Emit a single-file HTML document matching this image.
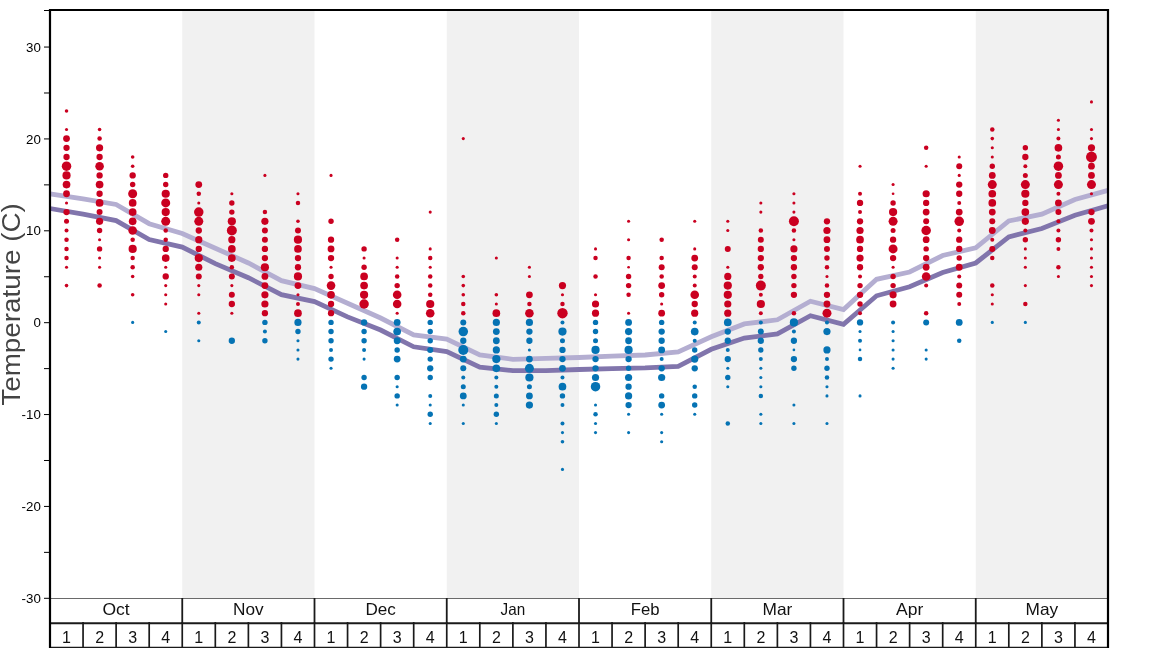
<!DOCTYPE html><html><head><meta charset="utf-8"><title>Temperature</title>
<style>html,body{margin:0;padding:0;background:#fff;overflow:hidden}svg{display:block;will-change:transform}text{font-family:"Liberation Sans",sans-serif}</style></head><body>
<svg width="1168" height="648" viewBox="0 0 1168 648">
<rect x="0" y="0" width="1168" height="648" fill="#fff"/>
<rect x="182.25" y="10.0" width="132.25" height="588.0" fill="#f1f1f1"/>
<rect x="446.75" y="10.0" width="132.25" height="588.0" fill="#f1f1f1"/>
<rect x="711.25" y="10.0" width="132.25" height="588.0" fill="#f1f1f1"/>
<rect x="975.75" y="10.0" width="132.25" height="588.0" fill="#f1f1f1"/>
<path d="M50.00,193.8 L83.06,198.8 L116.12,204.5 L149.19,223.7 L182.25,233.5 L215.31,248.2 L248.38,263.0 L281.44,280.7 L314.50,288.6 L347.56,303.3 L380.62,318.0 L413.69,335.0 L446.75,339.1 L479.81,355.0 L512.88,359.3 L545.94,358.4 L579.00,357.5 L612.06,356.1 L645.12,355.0 L678.19,352.0 L711.25,336.8 L744.31,323.9 L777.38,319.8 L810.44,301.2 L843.50,309.6 L876.56,279.3 L909.62,272.0 L942.69,255.5 L975.75,247.8 L1008.81,221.0 L1041.88,214.2 L1074.94,199.5 L1108.00,190.4" fill="none" stroke="#b4aed1" stroke-width="4.8" stroke-linejoin="miter"/>
<path d="M50.00,208.5 L83.06,214.2 L116.12,220.6 L149.19,239.6 L182.25,247.1 L215.31,263.6 L248.38,277.7 L281.44,294.7 L314.50,301.6 L347.56,316.9 L380.62,330.0 L413.69,346.8 L446.75,351.6 L479.81,367.2 L512.88,370.6 L545.94,370.6 L579.00,369.5 L612.06,368.6 L645.12,367.9 L678.19,366.3 L711.25,349.3 L744.31,338.0 L777.38,333.9 L810.44,315.7 L843.50,324.3 L876.56,295.8 L909.62,286.8 L942.69,272.5 L975.75,263.0 L1008.81,236.9 L1041.88,228.5 L1074.94,215.3 L1108.00,205.8" fill="none" stroke="#8175ac" stroke-width="4.8" stroke-linejoin="miter"/>
<circle cx="66.53" cy="285.62" r="1.80" fill="#ca0020"/>
<circle cx="66.53" cy="267.25" r="1.55" fill="#ca0020"/>
<circle cx="66.53" cy="258.06" r="2.25" fill="#ca0020"/>
<circle cx="66.53" cy="248.88" r="2.25" fill="#ca0020"/>
<circle cx="66.53" cy="239.69" r="2.25" fill="#ca0020"/>
<circle cx="66.53" cy="230.50" r="2.00" fill="#ca0020"/>
<circle cx="66.53" cy="221.31" r="2.50" fill="#ca0020"/>
<circle cx="66.53" cy="212.12" r="3.15" fill="#ca0020"/>
<circle cx="66.53" cy="202.94" r="1.55" fill="#ca0020"/>
<circle cx="66.53" cy="193.75" r="3.40" fill="#ca0020"/>
<circle cx="66.53" cy="184.56" r="3.85" fill="#ca0020"/>
<circle cx="66.53" cy="175.38" r="4.10" fill="#ca0020"/>
<circle cx="66.53" cy="166.19" r="4.75" fill="#ca0020"/>
<circle cx="66.53" cy="157.00" r="3.15" fill="#ca0020"/>
<circle cx="66.53" cy="147.81" r="3.15" fill="#ca0020"/>
<circle cx="66.53" cy="138.62" r="3.40" fill="#ca0020"/>
<circle cx="66.53" cy="129.44" r="1.55" fill="#ca0020"/>
<circle cx="66.53" cy="111.06" r="1.80" fill="#ca0020"/>
<circle cx="99.59" cy="285.62" r="2.25" fill="#ca0020"/>
<circle cx="99.59" cy="267.25" r="1.55" fill="#ca0020"/>
<circle cx="99.59" cy="258.06" r="1.55" fill="#ca0020"/>
<circle cx="99.59" cy="248.88" r="2.70" fill="#ca0020"/>
<circle cx="99.59" cy="239.69" r="1.55" fill="#ca0020"/>
<circle cx="99.59" cy="230.50" r="2.70" fill="#ca0020"/>
<circle cx="99.59" cy="221.31" r="3.60" fill="#ca0020"/>
<circle cx="99.59" cy="212.12" r="3.00" fill="#ca0020"/>
<circle cx="99.59" cy="202.94" r="3.85" fill="#ca0020"/>
<circle cx="99.59" cy="193.75" r="3.15" fill="#ca0020"/>
<circle cx="99.59" cy="184.56" r="3.85" fill="#ca0020"/>
<circle cx="99.59" cy="175.38" r="3.15" fill="#ca0020"/>
<circle cx="99.59" cy="166.19" r="4.30" fill="#ca0020"/>
<circle cx="99.59" cy="157.00" r="3.15" fill="#ca0020"/>
<circle cx="99.59" cy="147.81" r="3.60" fill="#ca0020"/>
<circle cx="99.59" cy="138.62" r="2.25" fill="#ca0020"/>
<circle cx="99.59" cy="129.44" r="1.80" fill="#ca0020"/>
<circle cx="132.66" cy="322.38" r="1.55" fill="#0573b4"/>
<circle cx="132.66" cy="294.81" r="1.80" fill="#ca0020"/>
<circle cx="132.66" cy="276.44" r="1.80" fill="#ca0020"/>
<circle cx="132.66" cy="267.25" r="2.25" fill="#ca0020"/>
<circle cx="132.66" cy="258.06" r="2.25" fill="#ca0020"/>
<circle cx="132.66" cy="248.88" r="4.10" fill="#ca0020"/>
<circle cx="132.66" cy="239.69" r="2.25" fill="#ca0020"/>
<circle cx="132.66" cy="230.50" r="4.30" fill="#ca0020"/>
<circle cx="132.66" cy="221.31" r="3.85" fill="#ca0020"/>
<circle cx="132.66" cy="212.12" r="3.85" fill="#ca0020"/>
<circle cx="132.66" cy="202.94" r="3.85" fill="#ca0020"/>
<circle cx="132.66" cy="193.75" r="4.50" fill="#ca0020"/>
<circle cx="132.66" cy="184.56" r="2.70" fill="#ca0020"/>
<circle cx="132.66" cy="175.38" r="3.15" fill="#ca0020"/>
<circle cx="132.66" cy="166.19" r="1.80" fill="#ca0020"/>
<circle cx="132.66" cy="157.00" r="1.80" fill="#ca0020"/>
<circle cx="165.72" cy="331.56" r="1.55" fill="#0573b4"/>
<circle cx="165.72" cy="304.00" r="1.55" fill="#ca0020"/>
<circle cx="165.72" cy="294.81" r="1.55" fill="#ca0020"/>
<circle cx="165.72" cy="285.62" r="1.55" fill="#ca0020"/>
<circle cx="165.72" cy="276.44" r="3.15" fill="#ca0020"/>
<circle cx="165.72" cy="267.25" r="1.55" fill="#ca0020"/>
<circle cx="165.72" cy="258.06" r="3.85" fill="#ca0020"/>
<circle cx="165.72" cy="248.88" r="3.15" fill="#ca0020"/>
<circle cx="165.72" cy="239.69" r="2.25" fill="#ca0020"/>
<circle cx="165.72" cy="230.50" r="2.25" fill="#ca0020"/>
<circle cx="165.72" cy="221.31" r="4.50" fill="#ca0020"/>
<circle cx="165.72" cy="212.12" r="4.10" fill="#ca0020"/>
<circle cx="165.72" cy="202.94" r="4.50" fill="#ca0020"/>
<circle cx="165.72" cy="193.75" r="4.10" fill="#ca0020"/>
<circle cx="165.72" cy="184.56" r="2.70" fill="#ca0020"/>
<circle cx="165.72" cy="175.38" r="2.70" fill="#ca0020"/>
<circle cx="198.78" cy="340.75" r="1.55" fill="#0573b4"/>
<circle cx="198.78" cy="322.38" r="2.00" fill="#0573b4"/>
<circle cx="198.78" cy="313.19" r="1.55" fill="#ca0020"/>
<circle cx="198.78" cy="294.81" r="1.55" fill="#ca0020"/>
<circle cx="198.78" cy="285.62" r="1.55" fill="#ca0020"/>
<circle cx="198.78" cy="276.44" r="3.00" fill="#ca0020"/>
<circle cx="198.78" cy="267.25" r="3.60" fill="#ca0020"/>
<circle cx="198.78" cy="258.06" r="4.10" fill="#ca0020"/>
<circle cx="198.78" cy="248.88" r="3.15" fill="#ca0020"/>
<circle cx="198.78" cy="239.69" r="3.60" fill="#ca0020"/>
<circle cx="198.78" cy="230.50" r="3.15" fill="#ca0020"/>
<circle cx="198.78" cy="221.31" r="4.50" fill="#ca0020"/>
<circle cx="198.78" cy="212.12" r="4.75" fill="#ca0020"/>
<circle cx="198.78" cy="202.94" r="1.55" fill="#ca0020"/>
<circle cx="198.78" cy="193.75" r="2.25" fill="#ca0020"/>
<circle cx="198.78" cy="184.56" r="3.40" fill="#ca0020"/>
<circle cx="231.84" cy="340.75" r="3.15" fill="#0573b4"/>
<circle cx="231.84" cy="313.19" r="1.55" fill="#ca0020"/>
<circle cx="231.84" cy="304.00" r="3.15" fill="#ca0020"/>
<circle cx="231.84" cy="294.81" r="3.00" fill="#ca0020"/>
<circle cx="231.84" cy="285.62" r="1.55" fill="#ca0020"/>
<circle cx="231.84" cy="276.44" r="3.00" fill="#ca0020"/>
<circle cx="231.84" cy="267.25" r="2.25" fill="#ca0020"/>
<circle cx="231.84" cy="258.06" r="3.85" fill="#ca0020"/>
<circle cx="231.84" cy="248.88" r="3.85" fill="#ca0020"/>
<circle cx="231.84" cy="239.69" r="3.60" fill="#ca0020"/>
<circle cx="231.84" cy="230.50" r="5.00" fill="#ca0020"/>
<circle cx="231.84" cy="221.31" r="4.10" fill="#ca0020"/>
<circle cx="231.84" cy="212.12" r="2.70" fill="#ca0020"/>
<circle cx="231.84" cy="202.94" r="2.70" fill="#ca0020"/>
<circle cx="231.84" cy="193.75" r="1.55" fill="#ca0020"/>
<circle cx="264.91" cy="340.75" r="2.70" fill="#0573b4"/>
<circle cx="264.91" cy="331.56" r="2.00" fill="#0573b4"/>
<circle cx="264.91" cy="322.38" r="2.70" fill="#0573b4"/>
<circle cx="264.91" cy="313.19" r="3.15" fill="#ca0020"/>
<circle cx="264.91" cy="304.00" r="3.60" fill="#ca0020"/>
<circle cx="264.91" cy="294.81" r="3.60" fill="#ca0020"/>
<circle cx="264.91" cy="285.62" r="3.40" fill="#ca0020"/>
<circle cx="264.91" cy="276.44" r="3.40" fill="#ca0020"/>
<circle cx="264.91" cy="267.25" r="4.10" fill="#ca0020"/>
<circle cx="264.91" cy="258.06" r="3.15" fill="#ca0020"/>
<circle cx="264.91" cy="248.88" r="3.15" fill="#ca0020"/>
<circle cx="264.91" cy="239.69" r="3.00" fill="#ca0020"/>
<circle cx="264.91" cy="230.50" r="3.00" fill="#ca0020"/>
<circle cx="264.91" cy="221.31" r="3.60" fill="#ca0020"/>
<circle cx="264.91" cy="212.12" r="2.25" fill="#ca0020"/>
<circle cx="264.91" cy="175.38" r="1.55" fill="#ca0020"/>
<circle cx="297.97" cy="359.12" r="1.55" fill="#0573b4"/>
<circle cx="297.97" cy="349.94" r="1.55" fill="#0573b4"/>
<circle cx="297.97" cy="340.75" r="1.55" fill="#0573b4"/>
<circle cx="297.97" cy="331.56" r="2.70" fill="#0573b4"/>
<circle cx="297.97" cy="322.38" r="3.60" fill="#0573b4"/>
<circle cx="297.97" cy="313.19" r="3.85" fill="#ca0020"/>
<circle cx="297.97" cy="304.00" r="2.00" fill="#ca0020"/>
<circle cx="297.97" cy="294.81" r="1.55" fill="#ca0020"/>
<circle cx="297.97" cy="285.62" r="3.40" fill="#ca0020"/>
<circle cx="297.97" cy="276.44" r="4.10" fill="#ca0020"/>
<circle cx="297.97" cy="267.25" r="3.15" fill="#ca0020"/>
<circle cx="297.97" cy="258.06" r="3.15" fill="#ca0020"/>
<circle cx="297.97" cy="248.88" r="3.85" fill="#ca0020"/>
<circle cx="297.97" cy="239.69" r="4.10" fill="#ca0020"/>
<circle cx="297.97" cy="230.50" r="3.00" fill="#ca0020"/>
<circle cx="297.97" cy="221.31" r="1.80" fill="#ca0020"/>
<circle cx="297.97" cy="202.94" r="2.25" fill="#ca0020"/>
<circle cx="297.97" cy="193.75" r="1.55" fill="#ca0020"/>
<circle cx="331.03" cy="368.31" r="1.55" fill="#0573b4"/>
<circle cx="331.03" cy="359.12" r="2.70" fill="#0573b4"/>
<circle cx="331.03" cy="349.94" r="2.00" fill="#0573b4"/>
<circle cx="331.03" cy="340.75" r="2.70" fill="#0573b4"/>
<circle cx="331.03" cy="331.56" r="2.70" fill="#0573b4"/>
<circle cx="331.03" cy="322.38" r="2.70" fill="#0573b4"/>
<circle cx="331.03" cy="313.19" r="3.15" fill="#ca0020"/>
<circle cx="331.03" cy="304.00" r="3.15" fill="#ca0020"/>
<circle cx="331.03" cy="294.81" r="3.85" fill="#ca0020"/>
<circle cx="331.03" cy="285.62" r="4.30" fill="#ca0020"/>
<circle cx="331.03" cy="276.44" r="2.70" fill="#ca0020"/>
<circle cx="331.03" cy="267.25" r="1.55" fill="#ca0020"/>
<circle cx="331.03" cy="258.06" r="3.15" fill="#ca0020"/>
<circle cx="331.03" cy="248.88" r="3.40" fill="#ca0020"/>
<circle cx="331.03" cy="239.69" r="3.15" fill="#ca0020"/>
<circle cx="331.03" cy="221.31" r="2.70" fill="#ca0020"/>
<circle cx="331.03" cy="175.38" r="1.55" fill="#ca0020"/>
<circle cx="364.09" cy="386.69" r="3.15" fill="#0573b4"/>
<circle cx="364.09" cy="377.50" r="2.70" fill="#0573b4"/>
<circle cx="364.09" cy="359.12" r="1.55" fill="#0573b4"/>
<circle cx="364.09" cy="349.94" r="2.00" fill="#0573b4"/>
<circle cx="364.09" cy="340.75" r="2.70" fill="#0573b4"/>
<circle cx="364.09" cy="331.56" r="2.70" fill="#0573b4"/>
<circle cx="364.09" cy="322.38" r="3.15" fill="#0573b4"/>
<circle cx="364.09" cy="304.00" r="4.75" fill="#ca0020"/>
<circle cx="364.09" cy="294.81" r="4.10" fill="#ca0020"/>
<circle cx="364.09" cy="285.62" r="3.85" fill="#ca0020"/>
<circle cx="364.09" cy="276.44" r="3.85" fill="#ca0020"/>
<circle cx="364.09" cy="267.25" r="2.70" fill="#ca0020"/>
<circle cx="364.09" cy="258.06" r="1.55" fill="#ca0020"/>
<circle cx="364.09" cy="248.88" r="2.70" fill="#ca0020"/>
<circle cx="397.16" cy="405.06" r="1.55" fill="#0573b4"/>
<circle cx="397.16" cy="395.88" r="2.70" fill="#0573b4"/>
<circle cx="397.16" cy="386.69" r="1.55" fill="#0573b4"/>
<circle cx="397.16" cy="377.50" r="2.70" fill="#0573b4"/>
<circle cx="397.16" cy="359.12" r="3.40" fill="#0573b4"/>
<circle cx="397.16" cy="349.94" r="2.70" fill="#0573b4"/>
<circle cx="397.16" cy="340.75" r="3.40" fill="#0573b4"/>
<circle cx="397.16" cy="331.56" r="3.85" fill="#0573b4"/>
<circle cx="397.16" cy="322.38" r="3.40" fill="#0573b4"/>
<circle cx="397.16" cy="313.19" r="1.55" fill="#ca0020"/>
<circle cx="397.16" cy="304.00" r="4.30" fill="#ca0020"/>
<circle cx="397.16" cy="294.81" r="4.30" fill="#ca0020"/>
<circle cx="397.16" cy="285.62" r="2.70" fill="#ca0020"/>
<circle cx="397.16" cy="276.44" r="2.25" fill="#ca0020"/>
<circle cx="397.16" cy="267.25" r="1.55" fill="#ca0020"/>
<circle cx="397.16" cy="258.06" r="1.55" fill="#ca0020"/>
<circle cx="397.16" cy="239.69" r="2.25" fill="#ca0020"/>
<circle cx="430.22" cy="423.44" r="1.55" fill="#0573b4"/>
<circle cx="430.22" cy="414.25" r="2.70" fill="#0573b4"/>
<circle cx="430.22" cy="405.06" r="1.55" fill="#0573b4"/>
<circle cx="430.22" cy="395.88" r="2.00" fill="#0573b4"/>
<circle cx="430.22" cy="377.50" r="2.70" fill="#0573b4"/>
<circle cx="430.22" cy="368.31" r="3.15" fill="#0573b4"/>
<circle cx="430.22" cy="359.12" r="2.70" fill="#0573b4"/>
<circle cx="430.22" cy="349.94" r="3.00" fill="#0573b4"/>
<circle cx="430.22" cy="340.75" r="2.70" fill="#0573b4"/>
<circle cx="430.22" cy="331.56" r="2.70" fill="#0573b4"/>
<circle cx="430.22" cy="322.38" r="2.70" fill="#0573b4"/>
<circle cx="430.22" cy="313.19" r="4.30" fill="#ca0020"/>
<circle cx="430.22" cy="304.00" r="4.10" fill="#ca0020"/>
<circle cx="430.22" cy="294.81" r="2.25" fill="#ca0020"/>
<circle cx="430.22" cy="285.62" r="2.25" fill="#ca0020"/>
<circle cx="430.22" cy="276.44" r="2.25" fill="#ca0020"/>
<circle cx="430.22" cy="267.25" r="1.55" fill="#ca0020"/>
<circle cx="430.22" cy="258.06" r="2.25" fill="#ca0020"/>
<circle cx="430.22" cy="248.88" r="1.55" fill="#ca0020"/>
<circle cx="430.22" cy="212.12" r="1.55" fill="#ca0020"/>
<circle cx="463.28" cy="423.44" r="1.55" fill="#0573b4"/>
<circle cx="463.28" cy="405.06" r="1.55" fill="#0573b4"/>
<circle cx="463.28" cy="395.88" r="3.40" fill="#0573b4"/>
<circle cx="463.28" cy="386.69" r="2.50" fill="#0573b4"/>
<circle cx="463.28" cy="377.50" r="2.00" fill="#0573b4"/>
<circle cx="463.28" cy="368.31" r="3.00" fill="#0573b4"/>
<circle cx="463.28" cy="359.12" r="3.40" fill="#0573b4"/>
<circle cx="463.28" cy="349.94" r="5.00" fill="#0573b4"/>
<circle cx="463.28" cy="340.75" r="3.15" fill="#0573b4"/>
<circle cx="463.28" cy="331.56" r="4.75" fill="#0573b4"/>
<circle cx="463.28" cy="322.38" r="3.00" fill="#0573b4"/>
<circle cx="463.28" cy="313.19" r="2.25" fill="#ca0020"/>
<circle cx="463.28" cy="304.00" r="2.25" fill="#ca0020"/>
<circle cx="463.28" cy="294.81" r="1.80" fill="#ca0020"/>
<circle cx="463.28" cy="285.62" r="1.80" fill="#ca0020"/>
<circle cx="463.28" cy="276.44" r="1.80" fill="#ca0020"/>
<circle cx="463.28" cy="138.62" r="1.55" fill="#ca0020"/>
<circle cx="496.34" cy="423.44" r="1.55" fill="#0573b4"/>
<circle cx="496.34" cy="414.25" r="2.70" fill="#0573b4"/>
<circle cx="496.34" cy="405.06" r="2.00" fill="#0573b4"/>
<circle cx="496.34" cy="395.88" r="2.50" fill="#0573b4"/>
<circle cx="496.34" cy="386.69" r="2.00" fill="#0573b4"/>
<circle cx="496.34" cy="377.50" r="2.00" fill="#0573b4"/>
<circle cx="496.34" cy="368.31" r="3.85" fill="#0573b4"/>
<circle cx="496.34" cy="359.12" r="4.10" fill="#0573b4"/>
<circle cx="496.34" cy="349.94" r="3.60" fill="#0573b4"/>
<circle cx="496.34" cy="340.75" r="3.40" fill="#0573b4"/>
<circle cx="496.34" cy="331.56" r="3.40" fill="#0573b4"/>
<circle cx="496.34" cy="322.38" r="3.60" fill="#0573b4"/>
<circle cx="496.34" cy="313.19" r="3.85" fill="#ca0020"/>
<circle cx="496.34" cy="304.00" r="1.55" fill="#ca0020"/>
<circle cx="496.34" cy="294.81" r="1.80" fill="#ca0020"/>
<circle cx="496.34" cy="258.06" r="1.55" fill="#ca0020"/>
<circle cx="529.41" cy="405.06" r="3.60" fill="#0573b4"/>
<circle cx="529.41" cy="395.88" r="3.40" fill="#0573b4"/>
<circle cx="529.41" cy="386.69" r="2.50" fill="#0573b4"/>
<circle cx="529.41" cy="377.50" r="4.10" fill="#0573b4"/>
<circle cx="529.41" cy="368.31" r="4.50" fill="#0573b4"/>
<circle cx="529.41" cy="359.12" r="3.40" fill="#0573b4"/>
<circle cx="529.41" cy="349.94" r="1.55" fill="#0573b4"/>
<circle cx="529.41" cy="340.75" r="3.15" fill="#0573b4"/>
<circle cx="529.41" cy="331.56" r="3.15" fill="#0573b4"/>
<circle cx="529.41" cy="322.38" r="3.60" fill="#0573b4"/>
<circle cx="529.41" cy="313.19" r="4.30" fill="#ca0020"/>
<circle cx="529.41" cy="304.00" r="2.25" fill="#ca0020"/>
<circle cx="529.41" cy="294.81" r="3.40" fill="#ca0020"/>
<circle cx="529.41" cy="276.44" r="1.55" fill="#ca0020"/>
<circle cx="529.41" cy="267.25" r="1.55" fill="#ca0020"/>
<circle cx="562.47" cy="469.38" r="1.55" fill="#0573b4"/>
<circle cx="562.47" cy="441.81" r="1.80" fill="#0573b4"/>
<circle cx="562.47" cy="432.62" r="1.55" fill="#0573b4"/>
<circle cx="562.47" cy="423.44" r="2.00" fill="#0573b4"/>
<circle cx="562.47" cy="405.06" r="2.00" fill="#0573b4"/>
<circle cx="562.47" cy="395.88" r="2.70" fill="#0573b4"/>
<circle cx="562.47" cy="386.69" r="3.85" fill="#0573b4"/>
<circle cx="562.47" cy="377.50" r="2.00" fill="#0573b4"/>
<circle cx="562.47" cy="368.31" r="3.40" fill="#0573b4"/>
<circle cx="562.47" cy="359.12" r="3.15" fill="#0573b4"/>
<circle cx="562.47" cy="349.94" r="3.15" fill="#0573b4"/>
<circle cx="562.47" cy="340.75" r="2.50" fill="#0573b4"/>
<circle cx="562.47" cy="331.56" r="4.10" fill="#0573b4"/>
<circle cx="562.47" cy="322.38" r="2.00" fill="#0573b4"/>
<circle cx="562.47" cy="313.19" r="5.20" fill="#ca0020"/>
<circle cx="562.47" cy="304.00" r="2.25" fill="#ca0020"/>
<circle cx="562.47" cy="294.81" r="1.55" fill="#ca0020"/>
<circle cx="562.47" cy="285.62" r="3.60" fill="#ca0020"/>
<circle cx="595.53" cy="432.62" r="1.55" fill="#0573b4"/>
<circle cx="595.53" cy="423.44" r="1.55" fill="#0573b4"/>
<circle cx="595.53" cy="414.25" r="2.25" fill="#0573b4"/>
<circle cx="595.53" cy="405.06" r="1.55" fill="#0573b4"/>
<circle cx="595.53" cy="386.69" r="4.75" fill="#0573b4"/>
<circle cx="595.53" cy="377.50" r="3.60" fill="#0573b4"/>
<circle cx="595.53" cy="368.31" r="3.15" fill="#0573b4"/>
<circle cx="595.53" cy="359.12" r="3.15" fill="#0573b4"/>
<circle cx="595.53" cy="349.94" r="4.10" fill="#0573b4"/>
<circle cx="595.53" cy="340.75" r="2.50" fill="#0573b4"/>
<circle cx="595.53" cy="331.56" r="2.70" fill="#0573b4"/>
<circle cx="595.53" cy="322.38" r="2.70" fill="#0573b4"/>
<circle cx="595.53" cy="313.19" r="3.60" fill="#ca0020"/>
<circle cx="595.53" cy="304.00" r="3.60" fill="#ca0020"/>
<circle cx="595.53" cy="294.81" r="1.55" fill="#ca0020"/>
<circle cx="595.53" cy="276.44" r="2.25" fill="#ca0020"/>
<circle cx="595.53" cy="258.06" r="2.25" fill="#ca0020"/>
<circle cx="595.53" cy="248.88" r="1.55" fill="#ca0020"/>
<circle cx="628.59" cy="432.62" r="1.55" fill="#0573b4"/>
<circle cx="628.59" cy="414.25" r="1.55" fill="#0573b4"/>
<circle cx="628.59" cy="405.06" r="3.15" fill="#0573b4"/>
<circle cx="628.59" cy="395.88" r="3.60" fill="#0573b4"/>
<circle cx="628.59" cy="386.69" r="3.15" fill="#0573b4"/>
<circle cx="628.59" cy="377.50" r="3.60" fill="#0573b4"/>
<circle cx="628.59" cy="368.31" r="2.70" fill="#0573b4"/>
<circle cx="628.59" cy="359.12" r="3.15" fill="#0573b4"/>
<circle cx="628.59" cy="349.94" r="4.10" fill="#0573b4"/>
<circle cx="628.59" cy="340.75" r="3.40" fill="#0573b4"/>
<circle cx="628.59" cy="331.56" r="3.60" fill="#0573b4"/>
<circle cx="628.59" cy="322.38" r="3.40" fill="#0573b4"/>
<circle cx="628.59" cy="313.19" r="1.55" fill="#ca0020"/>
<circle cx="628.59" cy="294.81" r="2.25" fill="#ca0020"/>
<circle cx="628.59" cy="285.62" r="2.70" fill="#ca0020"/>
<circle cx="628.59" cy="276.44" r="2.70" fill="#ca0020"/>
<circle cx="628.59" cy="267.25" r="1.35" fill="#ca0020"/>
<circle cx="628.59" cy="258.06" r="2.25" fill="#ca0020"/>
<circle cx="628.59" cy="239.69" r="1.55" fill="#ca0020"/>
<circle cx="628.59" cy="221.31" r="1.55" fill="#ca0020"/>
<circle cx="661.66" cy="441.81" r="1.55" fill="#0573b4"/>
<circle cx="661.66" cy="432.62" r="1.55" fill="#0573b4"/>
<circle cx="661.66" cy="414.25" r="1.55" fill="#0573b4"/>
<circle cx="661.66" cy="405.06" r="3.40" fill="#0573b4"/>
<circle cx="661.66" cy="395.88" r="2.70" fill="#0573b4"/>
<circle cx="661.66" cy="377.50" r="3.60" fill="#0573b4"/>
<circle cx="661.66" cy="368.31" r="3.15" fill="#0573b4"/>
<circle cx="661.66" cy="359.12" r="2.00" fill="#0573b4"/>
<circle cx="661.66" cy="349.94" r="3.40" fill="#0573b4"/>
<circle cx="661.66" cy="340.75" r="3.15" fill="#0573b4"/>
<circle cx="661.66" cy="331.56" r="3.15" fill="#0573b4"/>
<circle cx="661.66" cy="322.38" r="2.70" fill="#0573b4"/>
<circle cx="661.66" cy="313.19" r="3.40" fill="#ca0020"/>
<circle cx="661.66" cy="304.00" r="1.55" fill="#ca0020"/>
<circle cx="661.66" cy="294.81" r="2.70" fill="#ca0020"/>
<circle cx="661.66" cy="285.62" r="3.40" fill="#ca0020"/>
<circle cx="661.66" cy="276.44" r="2.25" fill="#ca0020"/>
<circle cx="661.66" cy="267.25" r="3.00" fill="#ca0020"/>
<circle cx="661.66" cy="258.06" r="2.25" fill="#ca0020"/>
<circle cx="661.66" cy="239.69" r="2.25" fill="#ca0020"/>
<circle cx="694.72" cy="414.25" r="1.55" fill="#0573b4"/>
<circle cx="694.72" cy="405.06" r="2.70" fill="#0573b4"/>
<circle cx="694.72" cy="395.88" r="2.70" fill="#0573b4"/>
<circle cx="694.72" cy="386.69" r="2.25" fill="#0573b4"/>
<circle cx="694.72" cy="368.31" r="3.15" fill="#0573b4"/>
<circle cx="694.72" cy="359.12" r="3.60" fill="#0573b4"/>
<circle cx="694.72" cy="349.94" r="2.70" fill="#0573b4"/>
<circle cx="694.72" cy="340.75" r="2.00" fill="#0573b4"/>
<circle cx="694.72" cy="331.56" r="3.85" fill="#0573b4"/>
<circle cx="694.72" cy="322.38" r="2.00" fill="#0573b4"/>
<circle cx="694.72" cy="313.19" r="3.60" fill="#ca0020"/>
<circle cx="694.72" cy="304.00" r="3.15" fill="#ca0020"/>
<circle cx="694.72" cy="294.81" r="4.30" fill="#ca0020"/>
<circle cx="694.72" cy="285.62" r="2.00" fill="#ca0020"/>
<circle cx="694.72" cy="276.44" r="2.00" fill="#ca0020"/>
<circle cx="694.72" cy="267.25" r="3.00" fill="#ca0020"/>
<circle cx="694.72" cy="258.06" r="3.40" fill="#ca0020"/>
<circle cx="694.72" cy="248.88" r="1.55" fill="#ca0020"/>
<circle cx="694.72" cy="221.31" r="1.55" fill="#ca0020"/>
<circle cx="727.78" cy="423.44" r="2.25" fill="#0573b4"/>
<circle cx="727.78" cy="386.69" r="1.55" fill="#0573b4"/>
<circle cx="727.78" cy="377.50" r="2.70" fill="#0573b4"/>
<circle cx="727.78" cy="368.31" r="1.55" fill="#0573b4"/>
<circle cx="727.78" cy="359.12" r="3.15" fill="#0573b4"/>
<circle cx="727.78" cy="349.94" r="2.00" fill="#0573b4"/>
<circle cx="727.78" cy="340.75" r="3.15" fill="#0573b4"/>
<circle cx="727.78" cy="331.56" r="3.15" fill="#0573b4"/>
<circle cx="727.78" cy="322.38" r="3.85" fill="#0573b4"/>
<circle cx="727.78" cy="313.19" r="3.60" fill="#ca0020"/>
<circle cx="727.78" cy="304.00" r="3.60" fill="#ca0020"/>
<circle cx="727.78" cy="294.81" r="4.10" fill="#ca0020"/>
<circle cx="727.78" cy="285.62" r="4.10" fill="#ca0020"/>
<circle cx="727.78" cy="276.44" r="3.60" fill="#ca0020"/>
<circle cx="727.78" cy="267.25" r="1.55" fill="#ca0020"/>
<circle cx="727.78" cy="248.88" r="3.00" fill="#ca0020"/>
<circle cx="727.78" cy="230.50" r="1.55" fill="#ca0020"/>
<circle cx="727.78" cy="221.31" r="1.55" fill="#ca0020"/>
<circle cx="760.84" cy="423.44" r="1.55" fill="#0573b4"/>
<circle cx="760.84" cy="414.25" r="1.55" fill="#0573b4"/>
<circle cx="760.84" cy="395.88" r="2.25" fill="#0573b4"/>
<circle cx="760.84" cy="386.69" r="1.55" fill="#0573b4"/>
<circle cx="760.84" cy="377.50" r="1.55" fill="#0573b4"/>
<circle cx="760.84" cy="368.31" r="1.55" fill="#0573b4"/>
<circle cx="760.84" cy="359.12" r="2.00" fill="#0573b4"/>
<circle cx="760.84" cy="349.94" r="2.70" fill="#0573b4"/>
<circle cx="760.84" cy="340.75" r="3.15" fill="#0573b4"/>
<circle cx="760.84" cy="331.56" r="3.00" fill="#0573b4"/>
<circle cx="760.84" cy="322.38" r="2.00" fill="#0573b4"/>
<circle cx="760.84" cy="313.19" r="2.00" fill="#ca0020"/>
<circle cx="760.84" cy="304.00" r="4.10" fill="#ca0020"/>
<circle cx="760.84" cy="294.81" r="2.00" fill="#ca0020"/>
<circle cx="760.84" cy="285.62" r="5.00" fill="#ca0020"/>
<circle cx="760.84" cy="276.44" r="2.70" fill="#ca0020"/>
<circle cx="760.84" cy="267.25" r="3.15" fill="#ca0020"/>
<circle cx="760.84" cy="258.06" r="3.15" fill="#ca0020"/>
<circle cx="760.84" cy="248.88" r="3.15" fill="#ca0020"/>
<circle cx="760.84" cy="239.69" r="3.00" fill="#ca0020"/>
<circle cx="760.84" cy="230.50" r="2.25" fill="#ca0020"/>
<circle cx="760.84" cy="212.12" r="1.55" fill="#ca0020"/>
<circle cx="760.84" cy="202.94" r="1.55" fill="#ca0020"/>
<circle cx="793.91" cy="423.44" r="1.55" fill="#0573b4"/>
<circle cx="793.91" cy="405.06" r="1.55" fill="#0573b4"/>
<circle cx="793.91" cy="368.31" r="2.70" fill="#0573b4"/>
<circle cx="793.91" cy="359.12" r="3.15" fill="#0573b4"/>
<circle cx="793.91" cy="349.94" r="1.35" fill="#0573b4"/>
<circle cx="793.91" cy="340.75" r="3.15" fill="#0573b4"/>
<circle cx="793.91" cy="331.56" r="2.00" fill="#0573b4"/>
<circle cx="793.91" cy="322.38" r="4.10" fill="#0573b4"/>
<circle cx="793.91" cy="313.19" r="2.25" fill="#ca0020"/>
<circle cx="793.91" cy="294.81" r="3.15" fill="#ca0020"/>
<circle cx="793.91" cy="285.62" r="2.70" fill="#ca0020"/>
<circle cx="793.91" cy="276.44" r="2.70" fill="#ca0020"/>
<circle cx="793.91" cy="267.25" r="3.15" fill="#ca0020"/>
<circle cx="793.91" cy="258.06" r="3.15" fill="#ca0020"/>
<circle cx="793.91" cy="248.88" r="3.60" fill="#ca0020"/>
<circle cx="793.91" cy="239.69" r="1.55" fill="#ca0020"/>
<circle cx="793.91" cy="230.50" r="2.25" fill="#ca0020"/>
<circle cx="793.91" cy="221.31" r="5.00" fill="#ca0020"/>
<circle cx="793.91" cy="212.12" r="1.55" fill="#ca0020"/>
<circle cx="793.91" cy="202.94" r="1.55" fill="#ca0020"/>
<circle cx="793.91" cy="193.75" r="1.55" fill="#ca0020"/>
<circle cx="826.97" cy="423.44" r="1.55" fill="#0573b4"/>
<circle cx="826.97" cy="395.88" r="1.55" fill="#0573b4"/>
<circle cx="826.97" cy="386.69" r="1.55" fill="#0573b4"/>
<circle cx="826.97" cy="377.50" r="2.25" fill="#0573b4"/>
<circle cx="826.97" cy="368.31" r="2.70" fill="#0573b4"/>
<circle cx="826.97" cy="359.12" r="2.00" fill="#0573b4"/>
<circle cx="826.97" cy="349.94" r="3.60" fill="#0573b4"/>
<circle cx="826.97" cy="331.56" r="3.60" fill="#0573b4"/>
<circle cx="826.97" cy="322.38" r="2.00" fill="#0573b4"/>
<circle cx="826.97" cy="313.19" r="4.50" fill="#ca0020"/>
<circle cx="826.97" cy="304.00" r="3.40" fill="#ca0020"/>
<circle cx="826.97" cy="294.81" r="3.15" fill="#ca0020"/>
<circle cx="826.97" cy="285.62" r="2.25" fill="#ca0020"/>
<circle cx="826.97" cy="276.44" r="1.55" fill="#ca0020"/>
<circle cx="826.97" cy="267.25" r="2.25" fill="#ca0020"/>
<circle cx="826.97" cy="258.06" r="2.70" fill="#ca0020"/>
<circle cx="826.97" cy="248.88" r="3.00" fill="#ca0020"/>
<circle cx="826.97" cy="239.69" r="3.40" fill="#ca0020"/>
<circle cx="826.97" cy="230.50" r="3.60" fill="#ca0020"/>
<circle cx="826.97" cy="221.31" r="3.15" fill="#ca0020"/>
<circle cx="860.03" cy="395.88" r="1.55" fill="#0573b4"/>
<circle cx="860.03" cy="359.12" r="2.25" fill="#0573b4"/>
<circle cx="860.03" cy="349.94" r="1.35" fill="#0573b4"/>
<circle cx="860.03" cy="340.75" r="2.00" fill="#0573b4"/>
<circle cx="860.03" cy="331.56" r="1.55" fill="#0573b4"/>
<circle cx="860.03" cy="322.38" r="3.15" fill="#0573b4"/>
<circle cx="860.03" cy="313.19" r="2.00" fill="#ca0020"/>
<circle cx="860.03" cy="304.00" r="2.70" fill="#ca0020"/>
<circle cx="860.03" cy="294.81" r="3.15" fill="#ca0020"/>
<circle cx="860.03" cy="285.62" r="2.70" fill="#ca0020"/>
<circle cx="860.03" cy="276.44" r="2.00" fill="#ca0020"/>
<circle cx="860.03" cy="267.25" r="3.15" fill="#ca0020"/>
<circle cx="860.03" cy="258.06" r="3.60" fill="#ca0020"/>
<circle cx="860.03" cy="248.88" r="3.15" fill="#ca0020"/>
<circle cx="860.03" cy="239.69" r="3.85" fill="#ca0020"/>
<circle cx="860.03" cy="230.50" r="3.60" fill="#ca0020"/>
<circle cx="860.03" cy="221.31" r="3.15" fill="#ca0020"/>
<circle cx="860.03" cy="212.12" r="2.00" fill="#ca0020"/>
<circle cx="860.03" cy="202.94" r="3.15" fill="#ca0020"/>
<circle cx="860.03" cy="193.75" r="2.00" fill="#ca0020"/>
<circle cx="860.03" cy="166.19" r="1.55" fill="#ca0020"/>
<circle cx="893.09" cy="368.31" r="1.55" fill="#0573b4"/>
<circle cx="893.09" cy="359.12" r="1.55" fill="#0573b4"/>
<circle cx="893.09" cy="349.94" r="1.55" fill="#0573b4"/>
<circle cx="893.09" cy="340.75" r="1.55" fill="#0573b4"/>
<circle cx="893.09" cy="331.56" r="1.55" fill="#0573b4"/>
<circle cx="893.09" cy="322.38" r="2.00" fill="#0573b4"/>
<circle cx="893.09" cy="304.00" r="3.40" fill="#ca0020"/>
<circle cx="893.09" cy="294.81" r="3.60" fill="#ca0020"/>
<circle cx="893.09" cy="285.62" r="2.70" fill="#ca0020"/>
<circle cx="893.09" cy="276.44" r="2.70" fill="#ca0020"/>
<circle cx="893.09" cy="267.25" r="1.55" fill="#ca0020"/>
<circle cx="893.09" cy="258.06" r="3.15" fill="#ca0020"/>
<circle cx="893.09" cy="248.88" r="4.50" fill="#ca0020"/>
<circle cx="893.09" cy="239.69" r="3.15" fill="#ca0020"/>
<circle cx="893.09" cy="230.50" r="2.50" fill="#ca0020"/>
<circle cx="893.09" cy="221.31" r="4.50" fill="#ca0020"/>
<circle cx="893.09" cy="212.12" r="4.10" fill="#ca0020"/>
<circle cx="893.09" cy="202.94" r="2.70" fill="#ca0020"/>
<circle cx="893.09" cy="193.75" r="1.35" fill="#ca0020"/>
<circle cx="893.09" cy="184.56" r="1.55" fill="#ca0020"/>
<circle cx="926.16" cy="359.12" r="1.55" fill="#0573b4"/>
<circle cx="926.16" cy="349.94" r="1.55" fill="#0573b4"/>
<circle cx="926.16" cy="322.38" r="3.00" fill="#0573b4"/>
<circle cx="926.16" cy="313.19" r="2.25" fill="#ca0020"/>
<circle cx="926.16" cy="285.62" r="2.00" fill="#ca0020"/>
<circle cx="926.16" cy="276.44" r="4.30" fill="#ca0020"/>
<circle cx="926.16" cy="267.25" r="3.40" fill="#ca0020"/>
<circle cx="926.16" cy="258.06" r="3.15" fill="#ca0020"/>
<circle cx="926.16" cy="248.88" r="2.70" fill="#ca0020"/>
<circle cx="926.16" cy="239.69" r="3.40" fill="#ca0020"/>
<circle cx="926.16" cy="230.50" r="4.75" fill="#ca0020"/>
<circle cx="926.16" cy="221.31" r="3.00" fill="#ca0020"/>
<circle cx="926.16" cy="212.12" r="3.40" fill="#ca0020"/>
<circle cx="926.16" cy="202.94" r="3.15" fill="#ca0020"/>
<circle cx="926.16" cy="193.75" r="3.60" fill="#ca0020"/>
<circle cx="926.16" cy="166.19" r="1.55" fill="#ca0020"/>
<circle cx="926.16" cy="147.81" r="2.25" fill="#ca0020"/>
<circle cx="959.22" cy="340.75" r="2.25" fill="#0573b4"/>
<circle cx="959.22" cy="322.38" r="3.40" fill="#0573b4"/>
<circle cx="959.22" cy="304.00" r="2.00" fill="#ca0020"/>
<circle cx="959.22" cy="294.81" r="3.00" fill="#ca0020"/>
<circle cx="959.22" cy="285.62" r="3.00" fill="#ca0020"/>
<circle cx="959.22" cy="276.44" r="2.00" fill="#ca0020"/>
<circle cx="959.22" cy="267.25" r="3.40" fill="#ca0020"/>
<circle cx="959.22" cy="258.06" r="2.70" fill="#ca0020"/>
<circle cx="959.22" cy="248.88" r="3.15" fill="#ca0020"/>
<circle cx="959.22" cy="239.69" r="3.15" fill="#ca0020"/>
<circle cx="959.22" cy="230.50" r="2.00" fill="#ca0020"/>
<circle cx="959.22" cy="221.31" r="4.75" fill="#ca0020"/>
<circle cx="959.22" cy="212.12" r="3.40" fill="#ca0020"/>
<circle cx="959.22" cy="202.94" r="2.00" fill="#ca0020"/>
<circle cx="959.22" cy="193.75" r="3.15" fill="#ca0020"/>
<circle cx="959.22" cy="184.56" r="3.15" fill="#ca0020"/>
<circle cx="959.22" cy="175.38" r="1.55" fill="#ca0020"/>
<circle cx="959.22" cy="166.19" r="3.00" fill="#ca0020"/>
<circle cx="959.22" cy="157.00" r="1.55" fill="#ca0020"/>
<circle cx="992.28" cy="322.38" r="1.55" fill="#0573b4"/>
<circle cx="992.28" cy="304.00" r="1.55" fill="#ca0020"/>
<circle cx="992.28" cy="294.81" r="1.55" fill="#ca0020"/>
<circle cx="992.28" cy="285.62" r="2.25" fill="#ca0020"/>
<circle cx="992.28" cy="258.06" r="2.25" fill="#ca0020"/>
<circle cx="992.28" cy="248.88" r="3.00" fill="#ca0020"/>
<circle cx="992.28" cy="239.69" r="2.00" fill="#ca0020"/>
<circle cx="992.28" cy="230.50" r="3.40" fill="#ca0020"/>
<circle cx="992.28" cy="221.31" r="3.00" fill="#ca0020"/>
<circle cx="992.28" cy="212.12" r="3.40" fill="#ca0020"/>
<circle cx="992.28" cy="202.94" r="3.85" fill="#ca0020"/>
<circle cx="992.28" cy="193.75" r="3.85" fill="#ca0020"/>
<circle cx="992.28" cy="184.56" r="4.50" fill="#ca0020"/>
<circle cx="992.28" cy="175.38" r="3.40" fill="#ca0020"/>
<circle cx="992.28" cy="166.19" r="2.70" fill="#ca0020"/>
<circle cx="992.28" cy="157.00" r="1.55" fill="#ca0020"/>
<circle cx="992.28" cy="147.81" r="1.55" fill="#ca0020"/>
<circle cx="992.28" cy="138.62" r="1.80" fill="#ca0020"/>
<circle cx="992.28" cy="129.44" r="2.25" fill="#ca0020"/>
<circle cx="1025.34" cy="322.38" r="1.55" fill="#0573b4"/>
<circle cx="1025.34" cy="304.00" r="2.25" fill="#ca0020"/>
<circle cx="1025.34" cy="285.62" r="1.55" fill="#ca0020"/>
<circle cx="1025.34" cy="267.25" r="1.55" fill="#ca0020"/>
<circle cx="1025.34" cy="258.06" r="1.55" fill="#ca0020"/>
<circle cx="1025.34" cy="248.88" r="1.55" fill="#ca0020"/>
<circle cx="1025.34" cy="239.69" r="2.70" fill="#ca0020"/>
<circle cx="1025.34" cy="230.50" r="2.00" fill="#ca0020"/>
<circle cx="1025.34" cy="221.31" r="3.60" fill="#ca0020"/>
<circle cx="1025.34" cy="212.12" r="3.85" fill="#ca0020"/>
<circle cx="1025.34" cy="202.94" r="3.15" fill="#ca0020"/>
<circle cx="1025.34" cy="193.75" r="4.10" fill="#ca0020"/>
<circle cx="1025.34" cy="184.56" r="4.50" fill="#ca0020"/>
<circle cx="1025.34" cy="175.38" r="2.50" fill="#ca0020"/>
<circle cx="1025.34" cy="166.19" r="2.00" fill="#ca0020"/>
<circle cx="1025.34" cy="157.00" r="3.15" fill="#ca0020"/>
<circle cx="1025.34" cy="147.81" r="2.70" fill="#ca0020"/>
<circle cx="1058.41" cy="276.44" r="1.55" fill="#ca0020"/>
<circle cx="1058.41" cy="267.25" r="2.25" fill="#ca0020"/>
<circle cx="1058.41" cy="248.88" r="2.00" fill="#ca0020"/>
<circle cx="1058.41" cy="239.69" r="2.70" fill="#ca0020"/>
<circle cx="1058.41" cy="230.50" r="2.00" fill="#ca0020"/>
<circle cx="1058.41" cy="221.31" r="2.00" fill="#ca0020"/>
<circle cx="1058.41" cy="212.12" r="3.00" fill="#ca0020"/>
<circle cx="1058.41" cy="202.94" r="3.40" fill="#ca0020"/>
<circle cx="1058.41" cy="193.75" r="2.00" fill="#ca0020"/>
<circle cx="1058.41" cy="184.56" r="4.50" fill="#ca0020"/>
<circle cx="1058.41" cy="175.38" r="3.40" fill="#ca0020"/>
<circle cx="1058.41" cy="166.19" r="4.75" fill="#ca0020"/>
<circle cx="1058.41" cy="157.00" r="2.50" fill="#ca0020"/>
<circle cx="1058.41" cy="147.81" r="3.85" fill="#ca0020"/>
<circle cx="1058.41" cy="138.62" r="2.00" fill="#ca0020"/>
<circle cx="1058.41" cy="129.44" r="1.55" fill="#ca0020"/>
<circle cx="1058.41" cy="120.25" r="1.55" fill="#ca0020"/>
<circle cx="1091.47" cy="285.62" r="1.55" fill="#ca0020"/>
<circle cx="1091.47" cy="276.44" r="1.55" fill="#ca0020"/>
<circle cx="1091.47" cy="267.25" r="1.55" fill="#ca0020"/>
<circle cx="1091.47" cy="258.06" r="1.55" fill="#ca0020"/>
<circle cx="1091.47" cy="248.88" r="1.55" fill="#ca0020"/>
<circle cx="1091.47" cy="239.69" r="1.55" fill="#ca0020"/>
<circle cx="1091.47" cy="230.50" r="2.00" fill="#ca0020"/>
<circle cx="1091.47" cy="221.31" r="3.40" fill="#ca0020"/>
<circle cx="1091.47" cy="212.12" r="3.15" fill="#ca0020"/>
<circle cx="1091.47" cy="193.75" r="1.55" fill="#ca0020"/>
<circle cx="1091.47" cy="184.56" r="4.50" fill="#ca0020"/>
<circle cx="1091.47" cy="175.38" r="3.40" fill="#ca0020"/>
<circle cx="1091.47" cy="166.19" r="3.40" fill="#ca0020"/>
<circle cx="1091.47" cy="157.00" r="5.45" fill="#ca0020"/>
<circle cx="1091.47" cy="147.81" r="3.60" fill="#ca0020"/>
<circle cx="1091.47" cy="138.62" r="1.55" fill="#ca0020"/>
<circle cx="1091.47" cy="129.44" r="1.55" fill="#ca0020"/>
<circle cx="1091.47" cy="101.88" r="1.55" fill="#ca0020"/>
<line x1="50.0" y1="598.5" x2="1108.0" y2="598.5" stroke="#444" stroke-width="0.8"/>
<line x1="50.0" y1="623.3" x2="1108.0" y2="623.3" stroke="#1a1a1a" stroke-width="1.9"/>
<line x1="49.0" y1="647.6" x2="1109.0" y2="647.6" stroke="#1a1a1a" stroke-width="1.6"/>
<line x1="182.25" y1="598" x2="182.25" y2="623" stroke="#1a1a1a" stroke-width="1.8"/>
<line x1="314.50" y1="598" x2="314.50" y2="623" stroke="#1a1a1a" stroke-width="1.8"/>
<line x1="446.75" y1="598" x2="446.75" y2="623" stroke="#1a1a1a" stroke-width="1.8"/>
<line x1="579.00" y1="598" x2="579.00" y2="623" stroke="#1a1a1a" stroke-width="1.8"/>
<line x1="711.25" y1="598" x2="711.25" y2="623" stroke="#1a1a1a" stroke-width="1.8"/>
<line x1="843.50" y1="598" x2="843.50" y2="623" stroke="#1a1a1a" stroke-width="1.8"/>
<line x1="975.75" y1="598" x2="975.75" y2="623" stroke="#1a1a1a" stroke-width="1.8"/>
<line x1="83.06" y1="622" x2="83.06" y2="648" stroke="#1a1a1a" stroke-width="1.7"/>
<line x1="116.12" y1="622" x2="116.12" y2="648" stroke="#1a1a1a" stroke-width="1.7"/>
<line x1="149.19" y1="622" x2="149.19" y2="648" stroke="#1a1a1a" stroke-width="1.7"/>
<line x1="182.25" y1="622" x2="182.25" y2="648" stroke="#1a1a1a" stroke-width="1.7"/>
<line x1="215.31" y1="622" x2="215.31" y2="648" stroke="#1a1a1a" stroke-width="1.7"/>
<line x1="248.38" y1="622" x2="248.38" y2="648" stroke="#1a1a1a" stroke-width="1.7"/>
<line x1="281.44" y1="622" x2="281.44" y2="648" stroke="#1a1a1a" stroke-width="1.7"/>
<line x1="314.50" y1="622" x2="314.50" y2="648" stroke="#1a1a1a" stroke-width="1.7"/>
<line x1="347.56" y1="622" x2="347.56" y2="648" stroke="#1a1a1a" stroke-width="1.7"/>
<line x1="380.62" y1="622" x2="380.62" y2="648" stroke="#1a1a1a" stroke-width="1.7"/>
<line x1="413.69" y1="622" x2="413.69" y2="648" stroke="#1a1a1a" stroke-width="1.7"/>
<line x1="446.75" y1="622" x2="446.75" y2="648" stroke="#1a1a1a" stroke-width="1.7"/>
<line x1="479.81" y1="622" x2="479.81" y2="648" stroke="#1a1a1a" stroke-width="1.7"/>
<line x1="512.88" y1="622" x2="512.88" y2="648" stroke="#1a1a1a" stroke-width="1.7"/>
<line x1="545.94" y1="622" x2="545.94" y2="648" stroke="#1a1a1a" stroke-width="1.7"/>
<line x1="579.00" y1="622" x2="579.00" y2="648" stroke="#1a1a1a" stroke-width="1.7"/>
<line x1="612.06" y1="622" x2="612.06" y2="648" stroke="#1a1a1a" stroke-width="1.7"/>
<line x1="645.12" y1="622" x2="645.12" y2="648" stroke="#1a1a1a" stroke-width="1.7"/>
<line x1="678.19" y1="622" x2="678.19" y2="648" stroke="#1a1a1a" stroke-width="1.7"/>
<line x1="711.25" y1="622" x2="711.25" y2="648" stroke="#1a1a1a" stroke-width="1.7"/>
<line x1="744.31" y1="622" x2="744.31" y2="648" stroke="#1a1a1a" stroke-width="1.7"/>
<line x1="777.38" y1="622" x2="777.38" y2="648" stroke="#1a1a1a" stroke-width="1.7"/>
<line x1="810.44" y1="622" x2="810.44" y2="648" stroke="#1a1a1a" stroke-width="1.7"/>
<line x1="843.50" y1="622" x2="843.50" y2="648" stroke="#1a1a1a" stroke-width="1.7"/>
<line x1="876.56" y1="622" x2="876.56" y2="648" stroke="#1a1a1a" stroke-width="1.7"/>
<line x1="909.62" y1="622" x2="909.62" y2="648" stroke="#1a1a1a" stroke-width="1.7"/>
<line x1="942.69" y1="622" x2="942.69" y2="648" stroke="#1a1a1a" stroke-width="1.7"/>
<line x1="975.75" y1="622" x2="975.75" y2="648" stroke="#1a1a1a" stroke-width="1.7"/>
<line x1="1008.81" y1="622" x2="1008.81" y2="648" stroke="#1a1a1a" stroke-width="1.7"/>
<line x1="1041.88" y1="622" x2="1041.88" y2="648" stroke="#1a1a1a" stroke-width="1.7"/>
<line x1="1074.94" y1="622" x2="1074.94" y2="648" stroke="#1a1a1a" stroke-width="1.7"/>
<path d="M50.0,648 L50.0,10.0 L1108.0,10.0 L1108.0,648" fill="none" stroke="#000" stroke-width="2.2" stroke-linejoin="miter"/>
<line x1="44" y1="598.30" x2="49" y2="598.30" stroke="#000" stroke-width="1"/>
<line x1="44" y1="552.36" x2="49" y2="552.36" stroke="#000" stroke-width="1"/>
<line x1="44" y1="506.43" x2="49" y2="506.43" stroke="#000" stroke-width="1"/>
<line x1="44" y1="460.49" x2="49" y2="460.49" stroke="#000" stroke-width="1"/>
<line x1="44" y1="414.55" x2="49" y2="414.55" stroke="#000" stroke-width="1"/>
<line x1="44" y1="368.61" x2="49" y2="368.61" stroke="#000" stroke-width="1"/>
<line x1="44" y1="322.68" x2="49" y2="322.68" stroke="#000" stroke-width="1"/>
<line x1="44" y1="276.74" x2="49" y2="276.74" stroke="#000" stroke-width="1"/>
<line x1="44" y1="230.80" x2="49" y2="230.80" stroke="#000" stroke-width="1"/>
<line x1="44" y1="184.86" x2="49" y2="184.86" stroke="#000" stroke-width="1"/>
<line x1="44" y1="138.93" x2="49" y2="138.93" stroke="#000" stroke-width="1"/>
<line x1="44" y1="92.99" x2="49" y2="92.99" stroke="#000" stroke-width="1"/>
<line x1="44" y1="47.05" x2="49" y2="47.05" stroke="#000" stroke-width="1"/>
<line x1="44" y1="10.5" x2="49" y2="10.5" stroke="#000" stroke-width="1"/>
<text x="40.8" y="602.90" font-size="13.3" text-anchor="end" fill="#000">-30</text>
<text x="40.8" y="511.02" font-size="13.3" text-anchor="end" fill="#000">-20</text>
<text x="40.8" y="419.15" font-size="13.3" text-anchor="end" fill="#000">-10</text>
<text x="40.8" y="327.27" font-size="13.3" text-anchor="end" fill="#000">0</text>
<text x="40.8" y="235.40" font-size="13.3" text-anchor="end" fill="#000">10</text>
<text x="40.8" y="143.53" font-size="13.3" text-anchor="end" fill="#000">20</text>
<text x="40.8" y="51.65" font-size="13.3" text-anchor="end" fill="#000">30</text>
<text x="102.53" y="615" font-size="16.5" textLength="27.2" lengthAdjust="spacingAndGlyphs" fill="#111">Oct</text>
<text x="233.07" y="615" font-size="16.5" textLength="30.6" lengthAdjust="spacingAndGlyphs" fill="#111">Nov</text>
<text x="365.43" y="615" font-size="16.5" textLength="30.4" lengthAdjust="spacingAndGlyphs" fill="#111">Dec</text>
<text x="500.57" y="615" font-size="16.5" textLength="24.6" lengthAdjust="spacingAndGlyphs" fill="#111">Jan</text>
<text x="630.73" y="615" font-size="16.5" textLength="28.8" lengthAdjust="spacingAndGlyphs" fill="#111">Feb</text>
<text x="762.48" y="615" font-size="16.5" textLength="29.8" lengthAdjust="spacingAndGlyphs" fill="#111">Mar</text>
<text x="896.02" y="615" font-size="16.5" textLength="27.2" lengthAdjust="spacingAndGlyphs" fill="#111">Apr</text>
<text x="1025.58" y="615" font-size="16.5" textLength="32.6" lengthAdjust="spacingAndGlyphs" fill="#111">May</text>
<text x="66.53" y="643.1" font-size="16" text-anchor="middle" fill="#111">1</text>
<text x="99.59" y="643.1" font-size="16" text-anchor="middle" fill="#111">2</text>
<text x="132.66" y="643.1" font-size="16" text-anchor="middle" fill="#111">3</text>
<text x="165.72" y="643.1" font-size="16" text-anchor="middle" fill="#111">4</text>
<text x="198.78" y="643.1" font-size="16" text-anchor="middle" fill="#111">1</text>
<text x="231.84" y="643.1" font-size="16" text-anchor="middle" fill="#111">2</text>
<text x="264.91" y="643.1" font-size="16" text-anchor="middle" fill="#111">3</text>
<text x="297.97" y="643.1" font-size="16" text-anchor="middle" fill="#111">4</text>
<text x="331.03" y="643.1" font-size="16" text-anchor="middle" fill="#111">1</text>
<text x="364.09" y="643.1" font-size="16" text-anchor="middle" fill="#111">2</text>
<text x="397.16" y="643.1" font-size="16" text-anchor="middle" fill="#111">3</text>
<text x="430.22" y="643.1" font-size="16" text-anchor="middle" fill="#111">4</text>
<text x="463.28" y="643.1" font-size="16" text-anchor="middle" fill="#111">1</text>
<text x="496.34" y="643.1" font-size="16" text-anchor="middle" fill="#111">2</text>
<text x="529.41" y="643.1" font-size="16" text-anchor="middle" fill="#111">3</text>
<text x="562.47" y="643.1" font-size="16" text-anchor="middle" fill="#111">4</text>
<text x="595.53" y="643.1" font-size="16" text-anchor="middle" fill="#111">1</text>
<text x="628.59" y="643.1" font-size="16" text-anchor="middle" fill="#111">2</text>
<text x="661.66" y="643.1" font-size="16" text-anchor="middle" fill="#111">3</text>
<text x="694.72" y="643.1" font-size="16" text-anchor="middle" fill="#111">4</text>
<text x="727.78" y="643.1" font-size="16" text-anchor="middle" fill="#111">1</text>
<text x="760.84" y="643.1" font-size="16" text-anchor="middle" fill="#111">2</text>
<text x="793.91" y="643.1" font-size="16" text-anchor="middle" fill="#111">3</text>
<text x="826.97" y="643.1" font-size="16" text-anchor="middle" fill="#111">4</text>
<text x="860.03" y="643.1" font-size="16" text-anchor="middle" fill="#111">1</text>
<text x="893.09" y="643.1" font-size="16" text-anchor="middle" fill="#111">2</text>
<text x="926.16" y="643.1" font-size="16" text-anchor="middle" fill="#111">3</text>
<text x="959.22" y="643.1" font-size="16" text-anchor="middle" fill="#111">4</text>
<text x="992.28" y="643.1" font-size="16" text-anchor="middle" fill="#111">1</text>
<text x="1025.34" y="643.1" font-size="16" text-anchor="middle" fill="#111">2</text>
<text x="1058.41" y="643.1" font-size="16" text-anchor="middle" fill="#111">3</text>
<text x="1091.47" y="643.1" font-size="16" text-anchor="middle" fill="#111">4</text>
<text transform="translate(20.1,304.5) rotate(-90)" font-size="25" text-anchor="middle" textLength="202.5" lengthAdjust="spacingAndGlyphs" fill="#444">Temperature (C)</text>
</svg></body></html>
